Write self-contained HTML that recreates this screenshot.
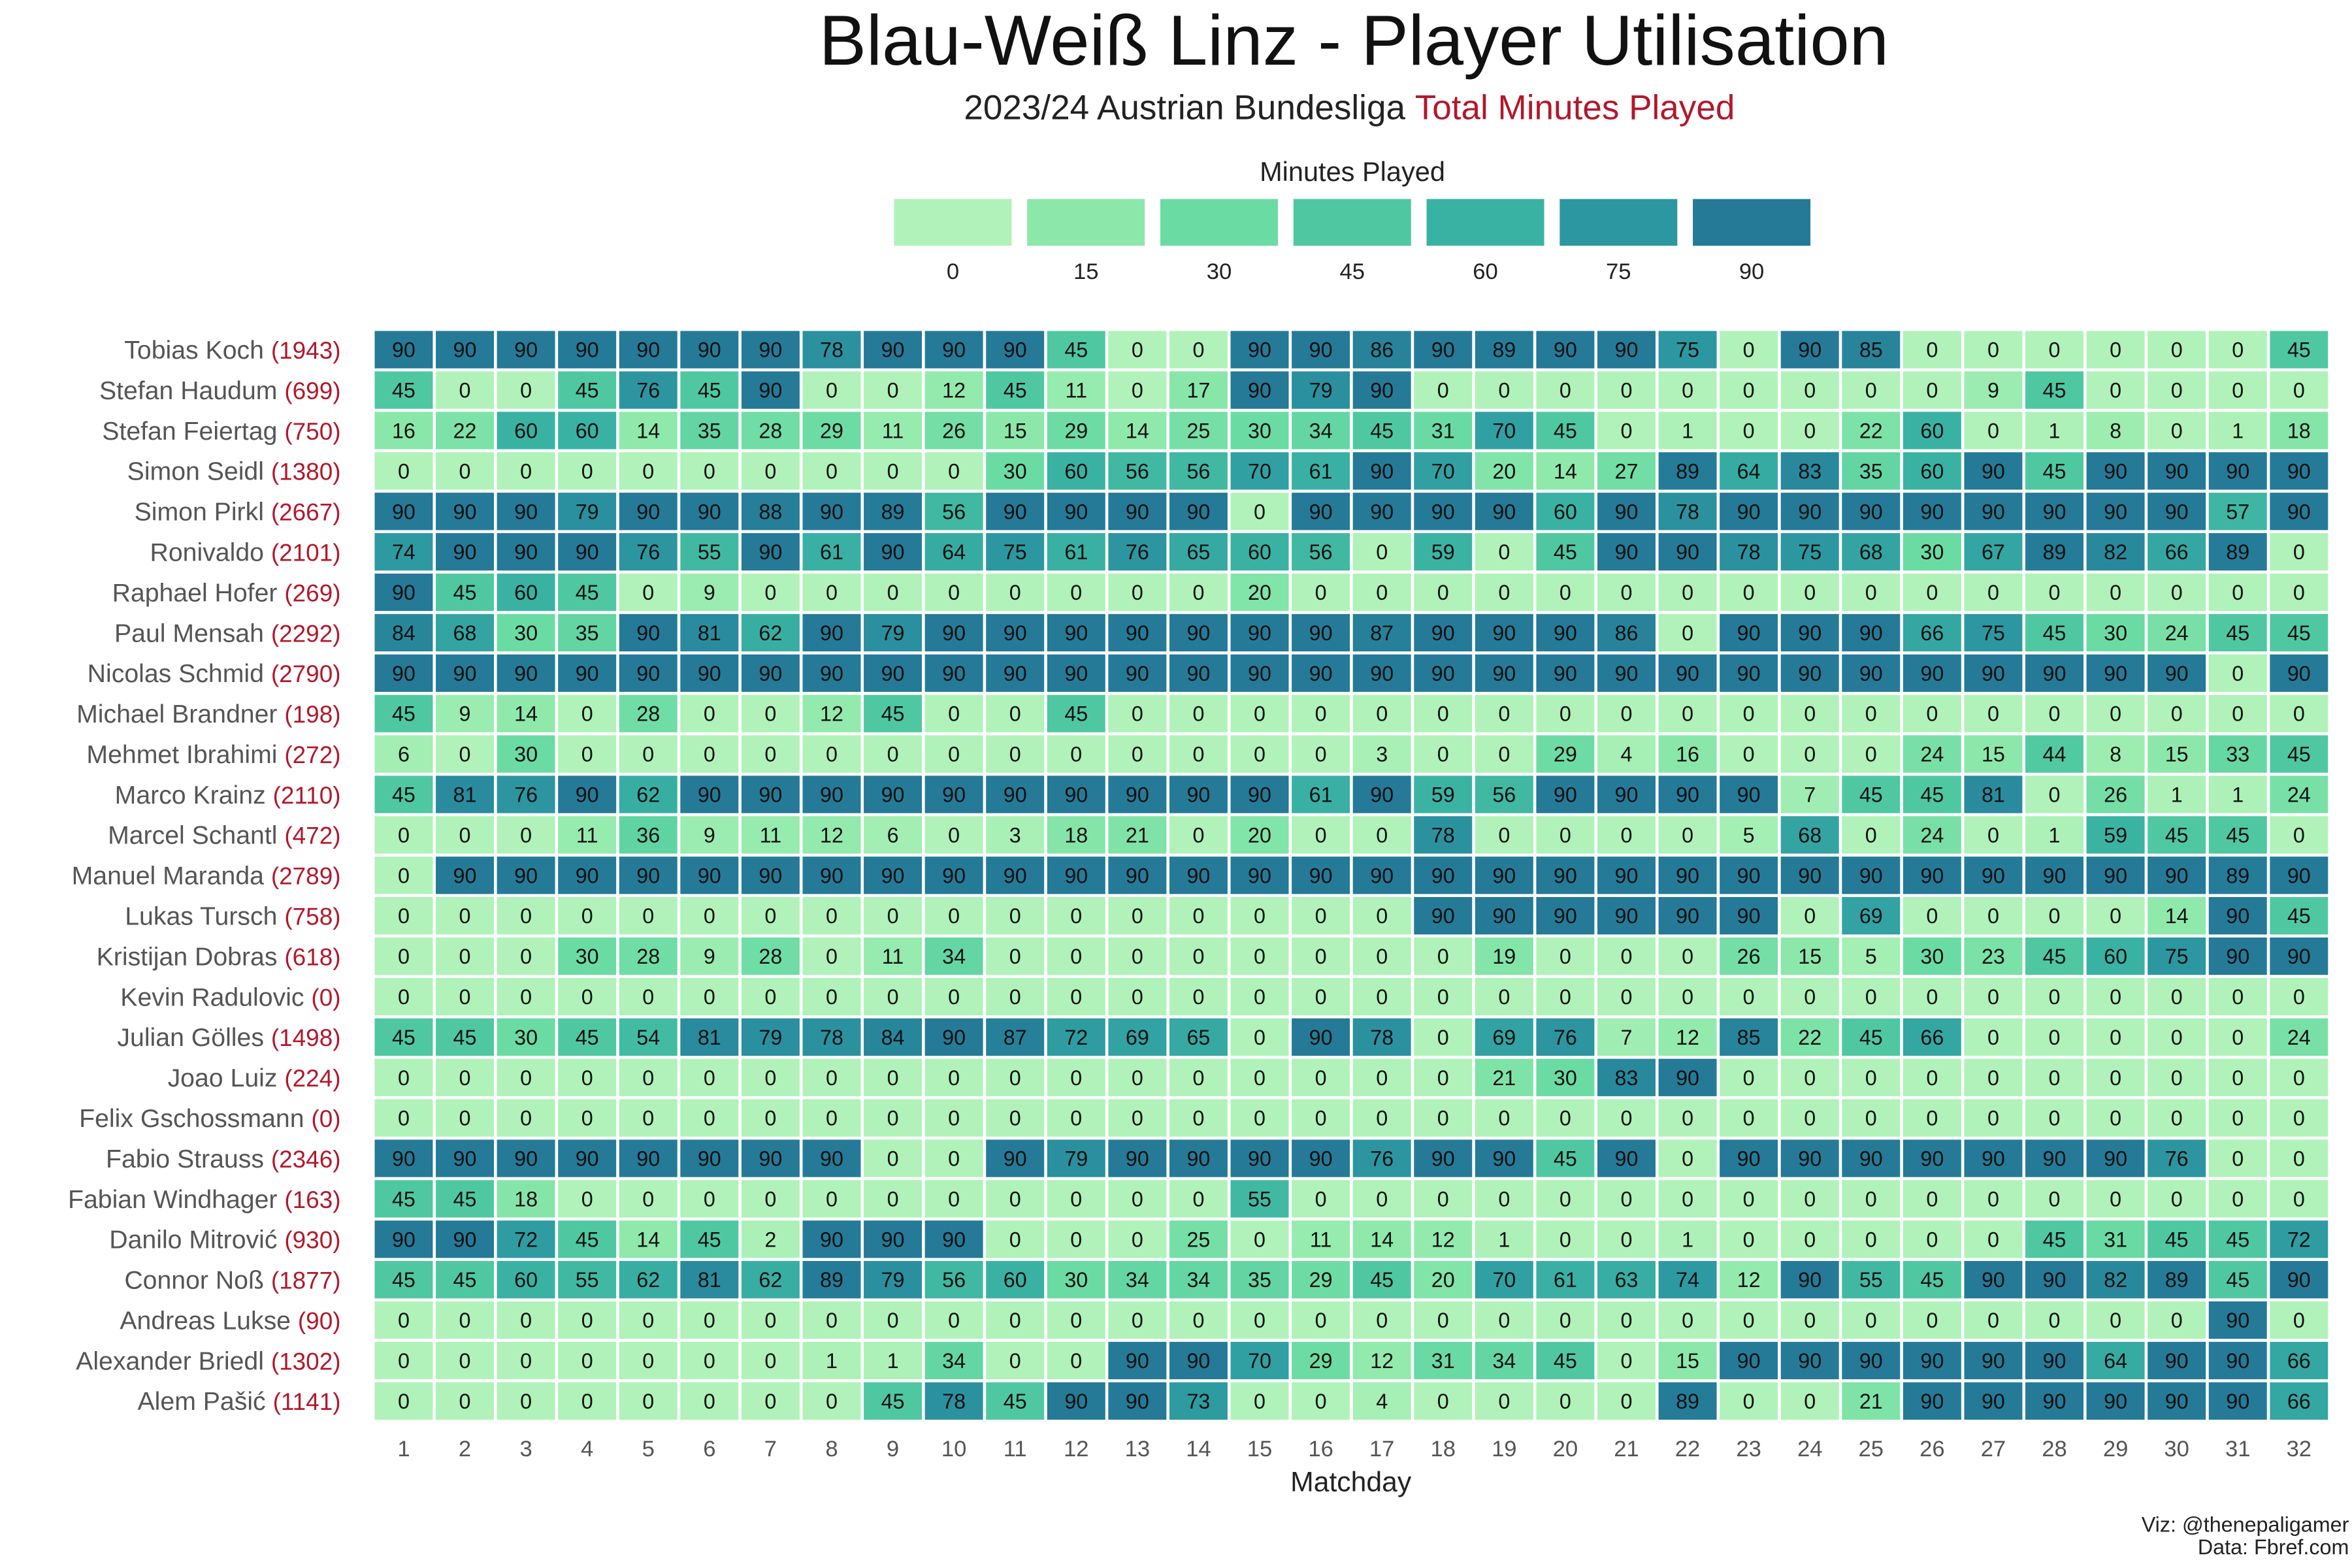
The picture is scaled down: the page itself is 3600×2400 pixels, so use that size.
<!DOCTYPE html>
<html><head><meta charset="utf-8"><style>
html,body{margin:0;padding:0;background:#fff;overflow:hidden;}
svg{display:block;}
text{font-family:"Liberation Sans",sans-serif;}
</style></head><body>
<svg id="chart" width="3600" height="2400" viewBox="0 0 1560 1040" xmlns="http://www.w3.org/2000/svg">
<rect width="1560" height="1040" fill="#fff"/>
<text x="898" y="43" text-anchor="middle" font-size="47" fill="#111">Blau-Weiß Linz - Player Utilisation</text>
<text x="895" y="79" text-anchor="middle" font-size="23" fill="#222">2023/24 Austrian Bundesliga <tspan fill="#b2182b">Total Minutes Played</tspan></text>
<text x="897" y="120" text-anchor="middle" font-size="18" fill="#222">Minutes Played</text>
<g id="legend"></g>
<g id="cells"></g>
<g id="ylabels"></g>
<g id="xlabels"></g>
<text x="896" y="989" text-anchor="middle" font-size="18.5" fill="#222">Matchday</text>
<text x="1558" y="1016" text-anchor="end" font-size="14" fill="#222">Viz: @thenepaligamer</text>
<text x="1558" y="1031" text-anchor="end" font-size="14" fill="#222">Data: Fbref.com</text>
</svg>
<script>
const players = ["Tobias Koch","Stefan Haudum","Stefan Feiertag","Simon Seidl","Simon Pirkl","Ronivaldo","Raphael Hofer","Paul Mensah","Nicolas Schmid","Michael Brandner","Mehmet Ibrahimi","Marco Krainz","Marcel Schantl","Manuel Maranda","Lukas Tursch","Kristijan Dobras","Kevin Radulovic","Julian Gölles","Joao Luiz","Felix Gschossmann","Fabio Strauss","Fabian Windhager","Danilo Mitrović","Connor Noß","Andreas Lukse","Alexander Briedl","Alem Pašić"];
const matchdays = [1,2,3,4,5,6,7,8,9,10,11,12,13,14,15,16,17,18,19,20,21,22,23,24,25,26,27,28,29,30,31,32];
const legendTicks = [0,15,30,45,60,75,90];
const minutes = [
[90,90,90,90,90,90,90,78,90,90,90,45,0,0,90,90,86,90,89,90,90,75,0,90,85,0,0,0,0,0,0,45],
[45,0,0,45,76,45,90,0,0,12,45,11,0,17,90,79,90,0,0,0,0,0,0,0,0,0,9,45,0,0,0,0],
[16,22,60,60,14,35,28,29,11,26,15,29,14,25,30,34,45,31,70,45,0,1,0,0,22,60,0,1,8,0,1,18],
[0,0,0,0,0,0,0,0,0,0,30,60,56,56,70,61,90,70,20,14,27,89,64,83,35,60,90,45,90,90,90,90],
[90,90,90,79,90,90,88,90,89,56,90,90,90,90,0,90,90,90,90,60,90,78,90,90,90,90,90,90,90,90,57,90],
[74,90,90,90,76,55,90,61,90,64,75,61,76,65,60,56,0,59,0,45,90,90,78,75,68,30,67,89,82,66,89,0],
[90,45,60,45,0,9,0,0,0,0,0,0,0,0,20,0,0,0,0,0,0,0,0,0,0,0,0,0,0,0,0,0],
[84,68,30,35,90,81,62,90,79,90,90,90,90,90,90,90,87,90,90,90,86,0,90,90,90,66,75,45,30,24,45,45],
[90,90,90,90,90,90,90,90,90,90,90,90,90,90,90,90,90,90,90,90,90,90,90,90,90,90,90,90,90,90,0,90],
[45,9,14,0,28,0,0,12,45,0,0,45,0,0,0,0,0,0,0,0,0,0,0,0,0,0,0,0,0,0,0,0],
[6,0,30,0,0,0,0,0,0,0,0,0,0,0,0,0,3,0,0,29,4,16,0,0,0,24,15,44,8,15,33,45],
[45,81,76,90,62,90,90,90,90,90,90,90,90,90,90,61,90,59,56,90,90,90,90,7,45,45,81,0,26,1,1,24],
[0,0,0,11,36,9,11,12,6,0,3,18,21,0,20,0,0,78,0,0,0,0,5,68,0,24,0,1,59,45,45,0],
[0,90,90,90,90,90,90,90,90,90,90,90,90,90,90,90,90,90,90,90,90,90,90,90,90,90,90,90,90,90,89,90],
[0,0,0,0,0,0,0,0,0,0,0,0,0,0,0,0,0,90,90,90,90,90,90,0,69,0,0,0,0,14,90,45],
[0,0,0,30,28,9,28,0,11,34,0,0,0,0,0,0,0,0,19,0,0,0,26,15,5,30,23,45,60,75,90,90],
[0,0,0,0,0,0,0,0,0,0,0,0,0,0,0,0,0,0,0,0,0,0,0,0,0,0,0,0,0,0,0,0],
[45,45,30,45,54,81,79,78,84,90,87,72,69,65,0,90,78,0,69,76,7,12,85,22,45,66,0,0,0,0,0,24],
[0,0,0,0,0,0,0,0,0,0,0,0,0,0,0,0,0,0,21,30,83,90,0,0,0,0,0,0,0,0,0,0],
[0,0,0,0,0,0,0,0,0,0,0,0,0,0,0,0,0,0,0,0,0,0,0,0,0,0,0,0,0,0,0,0],
[90,90,90,90,90,90,90,90,0,0,90,79,90,90,90,90,76,90,90,45,90,0,90,90,90,90,90,90,90,76,0,0],
[45,45,18,0,0,0,0,0,0,0,0,0,0,0,55,0,0,0,0,0,0,0,0,0,0,0,0,0,0,0,0,0],
[90,90,72,45,14,45,2,90,90,90,0,0,0,25,0,11,14,12,1,0,0,1,0,0,0,0,0,45,31,45,45,72],
[45,45,60,55,62,81,62,89,79,56,60,30,34,34,35,29,45,20,70,61,63,74,12,90,55,45,90,90,82,89,45,90],
[0,0,0,0,0,0,0,0,0,0,0,0,0,0,0,0,0,0,0,0,0,0,0,0,0,0,0,0,0,0,90,0],
[0,0,0,0,0,0,0,1,1,34,0,0,90,90,70,29,12,31,34,45,0,15,90,90,90,90,90,90,64,90,90,66],
[0,0,0,0,0,0,0,0,45,78,45,90,90,73,0,0,4,0,0,0,0,89,0,0,21,90,90,90,90,90,90,66]
];
const palette = ["#b0f2b9","#8ce8aa","#6bdba4","#4fc8a1","#3ab2a3","#2c97a1","#257a97"];
const NS = "http://www.w3.org/2000/svg";
function mk(tag, attrs, parent){const e=document.createElementNS(NS,tag);for(const k in attrs)e.setAttribute(k,attrs[k]);parent.appendChild(e);return e;}
function hex(c){return [1,3,5].map(i=>parseInt(c.substr(i,2),16));}
function colorFor(v){
  const t=Math.max(0,Math.min(90,v))/15;const i=Math.min(5,Math.floor(t));const f=t-i;
  const a=hex(palette[i]),b=hex(palette[i+1]);
  return "rgb("+a.map((x,k)=>Math.round(x+(b[k]-x)*f)).join(",")+")";
}
const x0=247.5, pitchX=40.55, y0=218.5, pitchY=26.82;
function xPos(i){return x0+i*pitchX;}
function yPos(r){return y0+r*pitchY;}
const cells=document.getElementById('cells');
minutes.forEach((row,r)=>{
  row.forEach((v,c)=>{
    const rect=mk('rect',{x:xPos(c)+1,y:yPos(r)+1,width:pitchX-2,height:pitchY-2,fill:colorFor(v)},cells);
    
    
    const t=mk('text',{x:xPos(c)+pitchX/2,y:yPos(r)+pitchY/2+5,'text-anchor':'middle','font-size':'14',fill:'#111'},cells);
    t.textContent=v;
    
    
  });
});
const yl=document.getElementById('ylabels');
players.forEach((p,r)=>{
  const total=minutes[r].reduce((a,b)=>a+b,0);
  const t=mk('text',{x:226,y:yPos(r)+pitchY/2+6,'text-anchor':'end','font-size':'17',fill:'#555'},yl);
  
  
  t.textContent=p+" ";
  const s=mk('tspan',{fill:'#b2182b','font-size':'16'},t);
  s.textContent="("+total+")";
});
const xl=document.getElementById('xlabels');
matchdays.forEach((m,i)=>{
  const t=mk('text',{x:xPos(i)+pitchX/2,y:966,'text-anchor':'middle','font-size':'15',fill:'#555'},xl);
  
  
  t.textContent=m;
});
const lg=document.getElementById('legend');
legendTicks.forEach((v,i)=>{
  const x=593+i*88.3;
  const r=mk('rect',{x:x,y:132,width:78,height:31,fill:colorFor(v)},lg);
  
  
  const t=mk('text',{x:x+39,y:185,'text-anchor':'middle','font-size':'15',fill:'#222'},lg);
  
  
  t.textContent=v;
});
</script>
</body></html>
